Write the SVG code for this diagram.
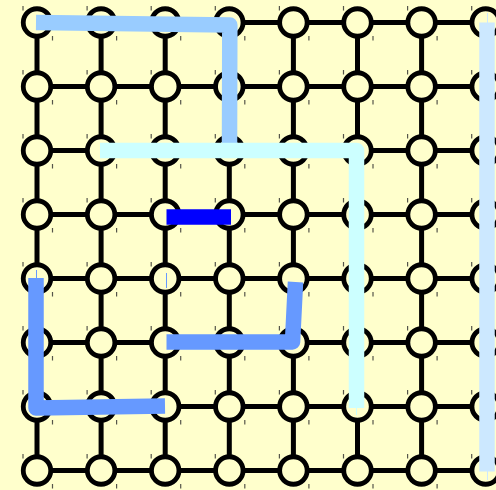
<svg xmlns="http://www.w3.org/2000/svg" xmlns:xlink="http://www.w3.org/1999/xlink" width="496" height="490" viewBox="0 0 496 490">
<style>
.edge{stroke:#000;stroke-width:5;fill:none}
.node circle{fill:#ffffcc;stroke:#000;stroke-width:4.8}
.tick{stroke:#55554a;stroke-width:1.2;fill:none}
.route{fill:none;stroke-width:15.5;stroke-linejoin:round;stroke-linecap:butt}
.stub{stroke-width:1;fill:none}
</style>
<defs>
<path id="tk" class="tick" d="M-14,-16.5v4.5M15.5,13.5v4.5"/>
</defs>
<rect x="0" y="0" width="496" height="490" fill="#ffffcc"/>
<g id="connectors">
<path class="edge" d="M37,22.5H485.7M37,86.5H485.7M37,150.5H485.7M37,214.5H485.7M37,278.5H485.7M37,342.5H485.7M37,406.5H485.7M37,470.5H485.7"/>
<path class="edge" d="M37,22.5V470.5M101.1,22.5V470.5M165.2,22.5V470.5M229.3,22.5V470.5M293.4,22.5V470.5M357.5,22.5V470.5M421.6,22.5V470.5M485.7,22.5V470.5"/>
</g>
<g id="nodes">
<g id="n-0-0" class="node" transform="translate(37,22.5)"><circle r="13.75"/><use xlink:href="#tk"/></g>
<g id="n-0-1" class="node" transform="translate(101.1,22.5)"><circle r="13.75"/><use xlink:href="#tk"/></g>
<g id="n-0-2" class="node" transform="translate(165.2,22.5)"><circle r="13.75"/><use xlink:href="#tk"/></g>
<g id="n-0-3" class="node" transform="translate(229.3,22.5)"><circle r="13.75"/><use xlink:href="#tk"/></g>
<g id="n-0-4" class="node" transform="translate(293.4,22.5)"><circle r="13.75"/><use xlink:href="#tk"/></g>
<g id="n-0-5" class="node" transform="translate(357.5,22.5)"><circle r="13.75"/><use xlink:href="#tk"/></g>
<g id="n-0-6" class="node" transform="translate(421.6,22.5)"><circle r="13.75"/><use xlink:href="#tk"/></g>
<g id="n-0-7" class="node" transform="translate(485.7,22.5)"><circle r="13.75"/><use xlink:href="#tk"/></g>
<g id="n-1-0" class="node" transform="translate(37,86.5)"><circle r="13.75"/><use xlink:href="#tk"/></g>
<g id="n-1-1" class="node" transform="translate(101.1,86.5)"><circle r="13.75"/><use xlink:href="#tk"/></g>
<g id="n-1-2" class="node" transform="translate(165.2,86.5)"><circle r="13.75"/><use xlink:href="#tk"/></g>
<g id="n-1-3" class="node" transform="translate(229.3,86.5)"><circle r="13.75"/><use xlink:href="#tk"/></g>
<g id="n-1-4" class="node" transform="translate(293.4,86.5)"><circle r="13.75"/><use xlink:href="#tk"/></g>
<g id="n-1-5" class="node" transform="translate(357.5,86.5)"><circle r="13.75"/><use xlink:href="#tk"/></g>
<g id="n-1-6" class="node" transform="translate(421.6,86.5)"><circle r="13.75"/><use xlink:href="#tk"/></g>
<g id="n-1-7" class="node" transform="translate(485.7,86.5)"><circle r="13.75"/><use xlink:href="#tk"/></g>
<g id="n-2-0" class="node" transform="translate(37,150.5)"><circle r="13.75"/><use xlink:href="#tk"/></g>
<g id="n-2-1" class="node" transform="translate(101.1,150.5)"><circle r="13.75"/><use xlink:href="#tk"/></g>
<g id="n-2-2" class="node" transform="translate(165.2,150.5)"><circle r="13.75"/><use xlink:href="#tk"/></g>
<g id="n-2-3" class="node" transform="translate(229.3,150.5)"><circle r="13.75"/><use xlink:href="#tk"/></g>
<g id="n-2-4" class="node" transform="translate(293.4,150.5)"><circle r="13.75"/><use xlink:href="#tk"/></g>
<g id="n-2-5" class="node" transform="translate(357.5,150.5)"><circle r="13.75"/><use xlink:href="#tk"/></g>
<g id="n-2-6" class="node" transform="translate(421.6,150.5)"><circle r="13.75"/><use xlink:href="#tk"/></g>
<g id="n-2-7" class="node" transform="translate(485.7,150.5)"><circle r="13.75"/><use xlink:href="#tk"/></g>
<g id="n-3-0" class="node" transform="translate(37,214.5)"><circle r="13.75"/><use xlink:href="#tk"/></g>
<g id="n-3-1" class="node" transform="translate(101.1,214.5)"><circle r="13.75"/><use xlink:href="#tk"/></g>
<g id="n-3-2" class="node" transform="translate(165.2,214.5)"><circle r="13.75"/><use xlink:href="#tk"/></g>
<g id="n-3-3" class="node" transform="translate(229.3,214.5)"><circle r="13.75"/><use xlink:href="#tk"/></g>
<g id="n-3-4" class="node" transform="translate(293.4,214.5)"><circle r="13.75"/><use xlink:href="#tk"/></g>
<g id="n-3-5" class="node" transform="translate(357.5,214.5)"><circle r="13.75"/><use xlink:href="#tk"/></g>
<g id="n-3-6" class="node" transform="translate(421.6,214.5)"><circle r="13.75"/><use xlink:href="#tk"/></g>
<g id="n-3-7" class="node" transform="translate(485.7,214.5)"><circle r="13.75"/><use xlink:href="#tk"/></g>
<g id="n-4-0" class="node" transform="translate(37,278.5)"><circle r="13.75"/><use xlink:href="#tk"/></g>
<g id="n-4-1" class="node" transform="translate(101.1,278.5)"><circle r="13.75"/><use xlink:href="#tk"/></g>
<g id="n-4-2" class="node" transform="translate(165.2,278.5)"><circle r="13.75"/><use xlink:href="#tk"/></g>
<g id="n-4-3" class="node" transform="translate(229.3,278.5)"><circle r="13.75"/><use xlink:href="#tk"/></g>
<g id="n-4-4" class="node" transform="translate(293.4,278.5)"><circle r="13.75"/><use xlink:href="#tk"/></g>
<g id="n-4-5" class="node" transform="translate(357.5,278.5)"><circle r="13.75"/><use xlink:href="#tk"/></g>
<g id="n-4-6" class="node" transform="translate(421.6,278.5)"><circle r="13.75"/><use xlink:href="#tk"/></g>
<g id="n-4-7" class="node" transform="translate(485.7,278.5)"><circle r="13.75"/><use xlink:href="#tk"/></g>
<g id="n-5-0" class="node" transform="translate(37,342.5)"><circle r="13.75"/><use xlink:href="#tk"/></g>
<g id="n-5-1" class="node" transform="translate(101.1,342.5)"><circle r="13.75"/><use xlink:href="#tk"/></g>
<g id="n-5-2" class="node" transform="translate(165.2,342.5)"><circle r="13.75"/><use xlink:href="#tk"/></g>
<g id="n-5-3" class="node" transform="translate(229.3,342.5)"><circle r="13.75"/><use xlink:href="#tk"/></g>
<g id="n-5-4" class="node" transform="translate(293.4,342.5)"><circle r="13.75"/><use xlink:href="#tk"/></g>
<g id="n-5-5" class="node" transform="translate(357.5,342.5)"><circle r="13.75"/><use xlink:href="#tk"/></g>
<g id="n-5-6" class="node" transform="translate(421.6,342.5)"><circle r="13.75"/><use xlink:href="#tk"/></g>
<g id="n-5-7" class="node" transform="translate(485.7,342.5)"><circle r="13.75"/><use xlink:href="#tk"/></g>
<g id="n-6-0" class="node" transform="translate(37,406.5)"><circle r="13.75"/><use xlink:href="#tk"/></g>
<g id="n-6-1" class="node" transform="translate(101.1,406.5)"><circle r="13.75"/><use xlink:href="#tk"/></g>
<g id="n-6-2" class="node" transform="translate(165.2,406.5)"><circle r="13.75"/><use xlink:href="#tk"/></g>
<g id="n-6-3" class="node" transform="translate(229.3,406.5)"><circle r="13.75"/><use xlink:href="#tk"/></g>
<g id="n-6-4" class="node" transform="translate(293.4,406.5)"><circle r="13.75"/><use xlink:href="#tk"/></g>
<g id="n-6-5" class="node" transform="translate(357.5,406.5)"><circle r="13.75"/><use xlink:href="#tk"/></g>
<g id="n-6-6" class="node" transform="translate(421.6,406.5)"><circle r="13.75"/><use xlink:href="#tk"/></g>
<g id="n-6-7" class="node" transform="translate(485.7,406.5)"><circle r="13.75"/><use xlink:href="#tk"/></g>
<g id="n-7-0" class="node" transform="translate(37,470.5)"><circle r="13.75"/><use xlink:href="#tk"/></g>
<g id="n-7-1" class="node" transform="translate(101.1,470.5)"><circle r="13.75"/><use xlink:href="#tk"/></g>
<g id="n-7-2" class="node" transform="translate(165.2,470.5)"><circle r="13.75"/><use xlink:href="#tk"/></g>
<g id="n-7-3" class="node" transform="translate(229.3,470.5)"><circle r="13.75"/><use xlink:href="#tk"/></g>
<g id="n-7-4" class="node" transform="translate(293.4,470.5)"><circle r="13.75"/><use xlink:href="#tk"/></g>
<g id="n-7-5" class="node" transform="translate(357.5,470.5)"><circle r="13.75"/><use xlink:href="#tk"/></g>
<g id="n-7-6" class="node" transform="translate(421.6,470.5)"><circle r="13.75"/><use xlink:href="#tk"/></g>
<g id="n-7-7" class="node" transform="translate(485.7,470.5)"><circle r="13.75"/><use xlink:href="#tk"/></g>
</g>
<g id="routes">
<path class="route" stroke="#99ccff" d="M36,22.5L229.8,25L229.5,150"/>
<path class="route" stroke="#ccffff" d="M100,150.5H356.5V408"/>
<path class="route" stroke="#cce8ff" d="M487,22.5V471.5"/>
<path class="route" stroke="#0000ff" d="M166.5,217H231"/>
<path class="route" stroke="#6699ff" d="M36,278L36,408L165,406"/>
<path class="route" stroke="#6699ff" d="M295.5,282L292.5,342L166.5,342"/>
<path class="stub" stroke="#6699ff" d="M36.5,270V278M166.5,273V288"/>
<path class="stub" stroke="#cce8ff" d="M487.5,13V23M487.5,471V480"/>
<path class="stub" stroke="#ccffff" d="M356.5,408V415"/>
</g>
</svg>
